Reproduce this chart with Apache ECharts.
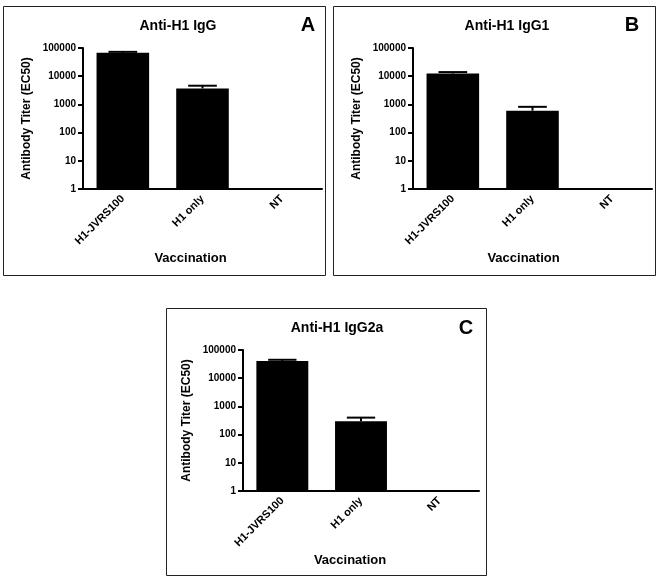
<!DOCTYPE html>
<html>
<head>
<meta charset="utf-8">
<script src="https://cdn.jsdelivr.net/npm/echarts@6/dist/echarts.min.js"></script>
<style>html,body{margin:0;padding:0;background:#fff;}#c{width:665px;height:583px;}</style>
</head>
<body>
<div id="c"></div>
<script>
var categories = ['H1-JVRS100', 'H1 only', 'NT'];
var iggMean = [68000, 3700, null];
var iggUpper = [73000, 4600, null];
var igg1Mean = [12500, 600, null];
var igg1Upper = [14000, 820, null];
var igg2aMean = [41000, 300, null];
var igg2aUpper = [45000, 400, null];
var panelTitles = ['Anti-H1 IgG', 'Anti-H1 IgG1', 'Anti-H1 IgG2a'];
var panelLetters = ['A', 'B', 'C'];
var yAxisName = 'Antibody Titer (EC50)';
var xAxisName = 'Vaccination';

var FONT = '"Liberation Sans", Arial, sans-serif';
var chart = echarts.init(document.getElementById('c'), null, {renderer: 'canvas'});

var grids = [
  {left: 83, right: 343, top: 48, bottom: 394},
  {left: 413, right: 13, top: 48, bottom: 394},
  {left: 243, right: 186, top: 350, bottom: 92}
];
var nameShift = [24, 18, 22];
var means = [iggMean, igg1Mean, igg2aMean];
var uppers = [iggUpper, igg1Upper, igg2aUpper];

var xAxes = [], yAxes = [], series = [];
for (var i = 0; i < 3; i++) {
  xAxes.push({
    type: 'category', gridIndex: i, data: categories,
    name: xAxisName, nameLocation: 'middle', nameGap: 63,
    nameTextStyle: {fontFamily: FONT, fontWeight: 'bold', fontSize: 13, color: '#000', padding: [0, nameShift[i], 0, 0]},
    axisLine: {lineStyle: {color: '#000', width: 2}},
    axisTick: {alignWithLabel: true, length: 5, lineStyle: {color: '#000', width: 2}},
    axisLabel: {rotate: 45, fontFamily: FONT, fontWeight: 'bold', fontSize: 11, color: '#000', margin: 8}
  });
  yAxes.push({
    type: 'log', logBase: 10, gridIndex: i, min: 1, max: 100000,
    name: yAxisName, nameLocation: 'middle', nameGap: 50,
    nameTextStyle: {fontFamily: FONT, fontWeight: 'bold', fontSize: 12, color: '#000'},
    axisLine: {show: true, lineStyle: {color: '#000', width: 2}},
    axisTick: {show: true, length: 5, lineStyle: {color: '#000', width: 2}},
    splitLine: {show: false},
    minorTick: {show: false},
    axisLabel: {fontFamily: FONT, fontWeight: 'bold', fontSize: 10, color: '#000', margin: 7,
      formatter: function (v) { return String(Math.round(v)); }}
  });
  series.push({
    type: 'bar', xAxisIndex: i, yAxisIndex: i, data: means[i],
    barWidth: '66%', itemStyle: {color: '#000'}, silent: true, z: 2
  });
  var ed = [];
  for (var k = 0; k < categories.length; k++) {
    if (means[i][k] != null) ed.push([k, means[i][k], uppers[i][k]]);
  }
  series.push({
    type: 'custom', xAxisIndex: i, yAxisIndex: i, data: ed, z: 3, silent: true,
    renderItem: function (params, api) {
      var x = api.value(0);
      var p0 = api.coord([x, api.value(1)]);
      var p1 = api.coord([x, api.value(2)]);
      var bw = api.size([1, 0])[0];
      var half = bw * 0.18;
      return {
        type: 'group',
        children: [
          {type: 'line', shape: {x1: p0[0], y1: p0[1], x2: p1[0], y2: p1[1]}, style: {stroke: '#000', lineWidth: 2}},
          {type: 'line', shape: {x1: p1[0] - half, y1: p1[1], x2: p1[0] + half, y2: p1[1]}, style: {stroke: '#000', lineWidth: 2}}
        ]
      };
    }
  });
}

function txt(s, x, y, size) {
  return {type: 'text', x: x, y: y, silent: true,
    style: {text: s, fill: '#000', font: 'bold ' + size + 'px ' + FONT, textAlign: 'center', textVerticalAlign: 'middle'}};
}

chart.setOption({
  animation: false,
  backgroundColor: '#fff',
  grid: grids,
  xAxis: xAxes,
  yAxis: yAxes,
  series: series,
  graphic: [
    {type: 'rect', shape: {x: 3.5, y: 6.5, width: 322, height: 269}, style: {fill: 'none', stroke: '#222', lineWidth: 1}, silent: true},
    {type: 'rect', shape: {x: 333.5, y: 6.5, width: 322, height: 269}, style: {fill: 'none', stroke: '#222', lineWidth: 1}, silent: true},
    {type: 'rect', shape: {x: 166.5, y: 308.5, width: 320, height: 267}, style: {fill: 'none', stroke: '#222', lineWidth: 1}, silent: true},
    txt(panelTitles[0], 178, 26, 14),
    txt(panelTitles[1], 507, 26, 14),
    txt(panelTitles[2], 337, 328, 14),
    txt(panelLetters[0], 308, 25, 20),
    txt(panelLetters[1], 632, 25, 20),
    txt(panelLetters[2], 466, 328, 20)
  ]
});
</script>
</body>
</html>
